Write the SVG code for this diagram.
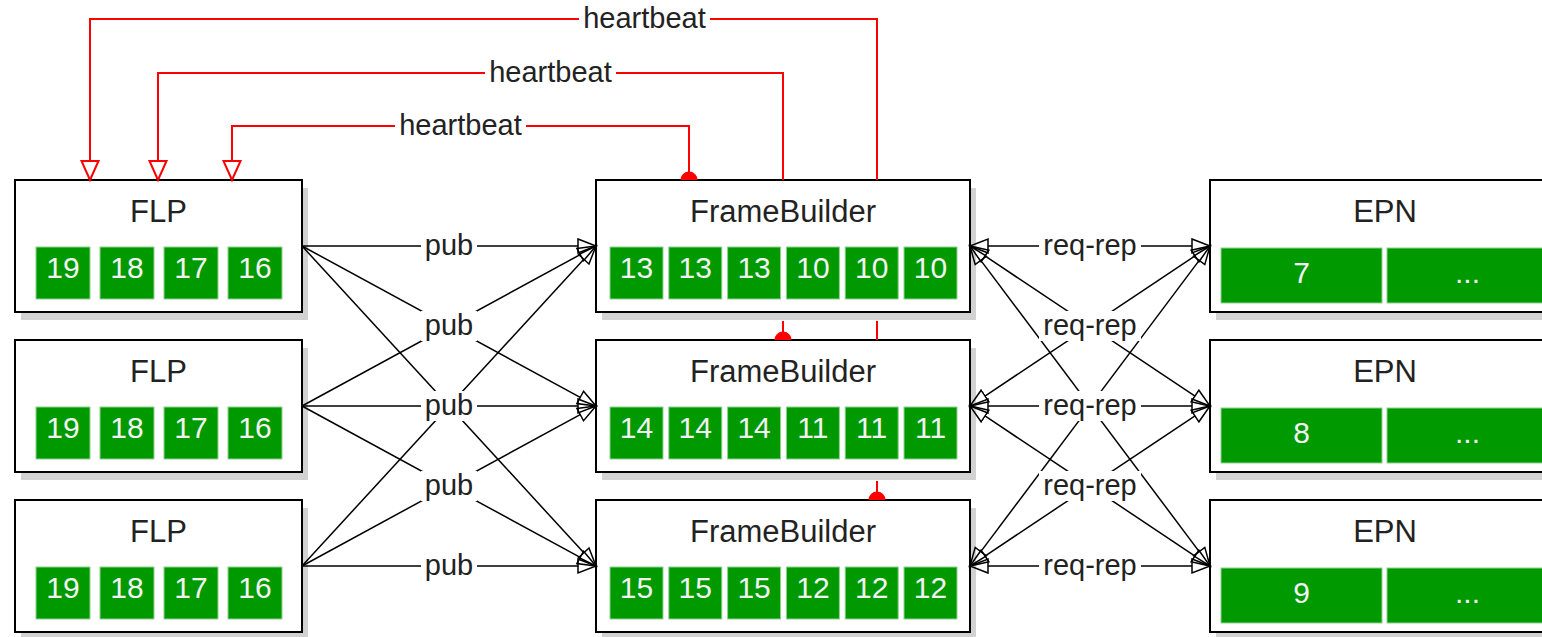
<svg xmlns="http://www.w3.org/2000/svg" width="1542" height="637" viewBox="0 0 1542 637">
<style>
.box{fill:#fff;stroke:#000;stroke-width:2}
.sh{fill:#d2d2d2}
.cell{fill:#009900;stroke:#8fd18f;stroke-width:1}
.title{font-family:"Liberation Sans",Arial,sans-serif;font-size:31px;fill:#222;text-anchor:middle}
.num{font-family:"Liberation Sans",Arial,sans-serif;font-size:30px;fill:#f2f2f2;text-anchor:middle}
.lbl{font-family:"Liberation Sans",Arial,sans-serif;font-size:29px;fill:#222;text-anchor:middle}
.lb{fill:#fff}
.pub{fill:none;stroke:#000;stroke-width:1.5;marker-end:url(#arrB)}
.rr{fill:none;stroke:#000;stroke-width:1.5;marker-end:url(#arrB);marker-start:url(#arrB)}
.hb{fill:none;stroke:#ff0000;stroke-width:2;marker-end:url(#arrR);marker-start:url(#dotR)}
</style>
<defs>
<marker id="arrB" markerUnits="userSpaceOnUse" markerWidth="22" markerHeight="20" viewBox="-1 -10 22 20" refX="0" refY="0" orient="auto-start-reverse">
<path d="M0,-7 L18,0 L0,7 Z" fill="none" stroke="#000" stroke-width="1.5"/>
</marker>
<marker id="arrR" markerUnits="userSpaceOnUse" markerWidth="24" markerHeight="24" viewBox="-2 -12 24 24" refX="0" refY="0" orient="auto">
<path d="M0,-8.5 L19,0 L0,8.5 Z" fill="#fff" stroke="#ff0000" stroke-width="2"/>
</marker>
<marker id="dotR" markerUnits="userSpaceOnUse" markerWidth="20" markerHeight="20" viewBox="-10 -10 20 20" refX="0" refY="0" orient="auto">
<path d="M0,-8.5 A8.5,8.5 0 0 1 0,8.5 Z" fill="#ff0000"/>
</marker>
</defs>

<g id="flp1">
<rect class="sh" x="21" y="188" width="287" height="132"/>
<rect class="box" x="15" y="180" width="287" height="132"/>
<text class="title" x="158.5" y="222">FLP</text>
<rect class="cell" x="36" y="247" width="54" height="52"/><text class="num" x="63" y="278">19</text>
<rect class="cell" x="100" y="247" width="54" height="52"/><text class="num" x="127" y="278">18</text>
<rect class="cell" x="164" y="247" width="54" height="52"/><text class="num" x="191" y="278">17</text>
<rect class="cell" x="228" y="247" width="54" height="52"/><text class="num" x="255" y="278">16</text>
</g>
<g id="flp2">
<rect class="sh" x="21" y="348" width="287" height="132"/>
<rect class="box" x="15" y="340" width="287" height="132"/>
<text class="title" x="158.5" y="382">FLP</text>
<rect class="cell" x="36" y="407" width="54" height="52"/><text class="num" x="63" y="438">19</text>
<rect class="cell" x="100" y="407" width="54" height="52"/><text class="num" x="127" y="438">18</text>
<rect class="cell" x="164" y="407" width="54" height="52"/><text class="num" x="191" y="438">17</text>
<rect class="cell" x="228" y="407" width="54" height="52"/><text class="num" x="255" y="438">16</text>
</g>
<g id="flp3">
<rect class="sh" x="21" y="508" width="287" height="132"/>
<rect class="box" x="15" y="500" width="287" height="132"/>
<text class="title" x="158.5" y="542">FLP</text>
<rect class="cell" x="36" y="567" width="54" height="52"/><text class="num" x="63" y="598">19</text>
<rect class="cell" x="100" y="567" width="54" height="52"/><text class="num" x="127" y="598">18</text>
<rect class="cell" x="164" y="567" width="54" height="52"/><text class="num" x="191" y="598">17</text>
<rect class="cell" x="228" y="567" width="54" height="52"/><text class="num" x="255" y="598">16</text>
</g>

<g id="fb1">
<rect class="sh" x="602" y="188" width="374" height="132"/>
<rect class="box" x="596" y="180" width="374" height="132"/>
<text class="title" x="783" y="222">FrameBuilder</text>
<rect class="cell" x="610" y="247" width="53" height="52"/><text class="num" x="636.5" y="278">13</text>
<rect class="cell" x="668.8" y="247" width="53" height="52"/><text class="num" x="695.3" y="278">13</text>
<rect class="cell" x="727.6" y="247" width="53" height="52"/><text class="num" x="754.1" y="278">13</text>
<rect class="cell" x="786.4" y="247" width="53" height="52"/><text class="num" x="812.9" y="278">10</text>
<rect class="cell" x="845.2" y="247" width="53" height="52"/><text class="num" x="871.7" y="278">10</text>
<rect class="cell" x="904" y="247" width="53" height="52"/><text class="num" x="930.5" y="278">10</text>
</g>
<g id="fb2">
<rect class="sh" x="602" y="348" width="374" height="132"/>
<rect class="box" x="596" y="340" width="374" height="132"/>
<text class="title" x="783" y="382">FrameBuilder</text>
<rect class="cell" x="610" y="407" width="53" height="52"/><text class="num" x="636.5" y="438">14</text>
<rect class="cell" x="668.8" y="407" width="53" height="52"/><text class="num" x="695.3" y="438">14</text>
<rect class="cell" x="727.6" y="407" width="53" height="52"/><text class="num" x="754.1" y="438">14</text>
<rect class="cell" x="786.4" y="407" width="53" height="52"/><text class="num" x="812.9" y="438">11</text>
<rect class="cell" x="845.2" y="407" width="53" height="52"/><text class="num" x="871.7" y="438">11</text>
<rect class="cell" x="904" y="407" width="53" height="52"/><text class="num" x="930.5" y="438">11</text>
</g>
<g id="fb3">
<rect class="sh" x="602" y="508" width="374" height="132"/>
<rect class="box" x="596" y="500" width="374" height="132"/>
<text class="title" x="783" y="542">FrameBuilder</text>
<rect class="cell" x="610" y="567" width="53" height="52"/><text class="num" x="636.5" y="598">15</text>
<rect class="cell" x="668.8" y="567" width="53" height="52"/><text class="num" x="695.3" y="598">15</text>
<rect class="cell" x="727.6" y="567" width="53" height="52"/><text class="num" x="754.1" y="598">15</text>
<rect class="cell" x="786.4" y="567" width="53" height="52"/><text class="num" x="812.9" y="598">12</text>
<rect class="cell" x="845.2" y="567" width="53" height="52"/><text class="num" x="871.7" y="598">12</text>
<rect class="cell" x="904" y="567" width="53" height="52"/><text class="num" x="930.5" y="598">12</text>
</g>

<g id="epn1">
<rect class="sh" x="1216" y="188" width="350" height="132"/>
<rect class="box" x="1210" y="180" width="350" height="132"/>
<text class="title" x="1385" y="222">EPN</text>
<rect class="cell" x="1221" y="248" width="161" height="55"/><text class="num" x="1301.5" y="283">7</text>
<rect class="cell" x="1387" y="248" width="161" height="55"/><text class="num" x="1467.5" y="283">...</text>
</g>
<g id="epn2">
<rect class="sh" x="1216" y="348" width="350" height="132"/>
<rect class="box" x="1210" y="340" width="350" height="132"/>
<text class="title" x="1385" y="382">EPN</text>
<rect class="cell" x="1221" y="408" width="161" height="55"/><text class="num" x="1301.5" y="443">8</text>
<rect class="cell" x="1387" y="408" width="161" height="55"/><text class="num" x="1467.5" y="443">...</text>
</g>
<g id="epn3">
<rect class="sh" x="1216" y="508" width="350" height="132"/>
<rect class="box" x="1210" y="500" width="350" height="132"/>
<text class="title" x="1385" y="542">EPN</text>
<rect class="cell" x="1221" y="568" width="161" height="55"/><text class="num" x="1301.5" y="603">9</text>
<rect class="cell" x="1387" y="568" width="161" height="55"/><text class="num" x="1467.5" y="603">...</text>
</g>

<g id="connectors">
<!-- heartbeat (hidden behind boxes where they pass through) -->
<path class="hb" d="M689,180 L689,126 L232,126 L232,161"/>
<path class="hb" d="M783,340 L783,321 M783,180 L783,73 L158,73 L158,161"/>
<path class="hb" d="M877,500 L877,481 M877,340 L877,321 M877,180 L877,19 L90,19 L90,161"/>
<!-- pub -->
<path class="pub" d="M302,246 L578,246"/>
<path class="pub" d="M302,246 L580.19,397.4"/>
<path class="pub" d="M302,246 L583.82,552.75"/>
<path class="pub" d="M302,406 L580.19,254.6"/>
<path class="pub" d="M302,406 L578,406"/>
<path class="pub" d="M302,406 L580.19,557.4"/>
<path class="pub" d="M302,566 L583.82,259.25"/>
<path class="pub" d="M302,566 L580.19,414.6"/>
<path class="pub" d="M302,566 L578,566"/>
<!-- req-rep -->
<path class="rr" d="M988,246 L1192,246"/>
<path class="rr" d="M984.98,255.98 L1195.02,396.02"/>
<path class="rr" d="M980.8,260.4 L1199.2,551.6"/>
<path class="rr" d="M984.98,396.02 L1195.02,255.98"/>
<path class="rr" d="M988,406 L1192,406"/>
<path class="rr" d="M984.98,415.98 L1195.02,556.02"/>
<path class="rr" d="M980.8,551.6 L1199.2,260.4"/>
<path class="rr" d="M984.98,556.02 L1195.02,415.98"/>
<path class="rr" d="M988,566 L1192,566"/>
<!-- labels -->
<rect class="lb" x="395" y="111" width="131" height="30"/>
<text class="lbl" x="460.5" y="135">heartbeat</text>
<rect class="lb" x="485" y="58" width="131" height="30"/>
<text class="lbl" x="550.5" y="82">heartbeat</text>
<rect class="lb" x="579" y="4" width="131" height="30"/>
<text class="lbl" x="644.5" y="28">heartbeat</text>
<rect class="lb" x="421" y="231" width="56" height="30"/>
<text class="lbl" x="449" y="255">pub</text>
<rect class="lb" x="421" y="311" width="56" height="30"/>
<text class="lbl" x="449" y="335">pub</text>
<rect class="lb" x="421" y="391" width="56" height="30"/>
<text class="lbl" x="449" y="415">pub</text>
<rect class="lb" x="421" y="471" width="56" height="30"/>
<text class="lbl" x="449" y="495">pub</text>
<rect class="lb" x="421" y="551" width="56" height="30"/>
<text class="lbl" x="449" y="575">pub</text>
<rect class="lb" x="1039" y="231" width="102" height="30"/>
<text class="lbl" x="1090" y="255">req-rep</text>
<rect class="lb" x="1039" y="311" width="102" height="30"/>
<text class="lbl" x="1090" y="335">req-rep</text>
<rect class="lb" x="1039" y="391" width="102" height="30"/>
<text class="lbl" x="1090" y="415">req-rep</text>
<rect class="lb" x="1039" y="471" width="102" height="30"/>
<text class="lbl" x="1090" y="495">req-rep</text>
<rect class="lb" x="1039" y="551" width="102" height="30"/>
<text class="lbl" x="1090" y="575">req-rep</text>
</g>
</svg>
